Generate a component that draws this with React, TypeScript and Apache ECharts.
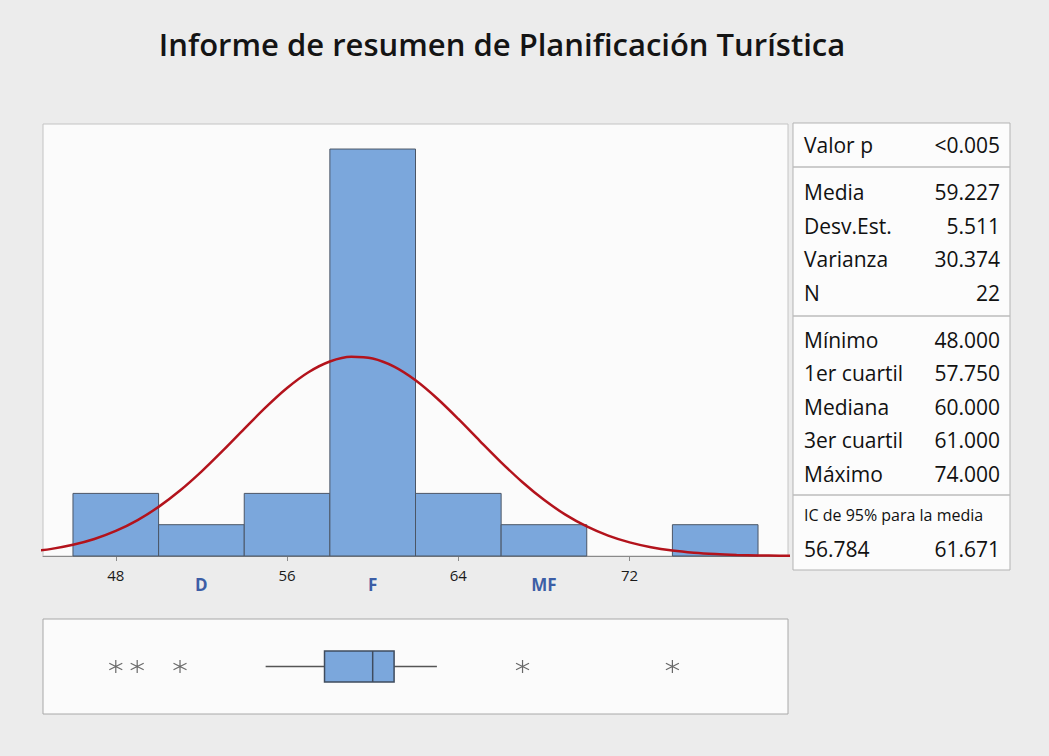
import React, { useEffect, useRef } from "react";
import * as echarts from "echarts";

// ---- Data ----
const binWidth = 4;
const binStarts = [46, 50, 54, 58, 62, 66, 70, 74];
const binCounts = [2, 1, 2, 13, 2, 1, 0, 1];

// fitted normal curve (mean 59.227, sd 5.511, N 22, scaled to counts)
const curveX = [44, 45, 46, 47, 48, 49, 50, 51, 52, 53, 54, 55, 56, 57, 58, 59, 60, 61, 62, 63, 64, 65, 66, 67, 68, 69, 70, 71, 72, 73, 74, 75, 76, 77, 78, 79, 80];
const curveY = [0.14, 0.228, 0.358, 0.544, 0.8, 1.139, 1.569, 2.091, 2.696, 3.365, 4.063, 4.747, 5.367, 5.871, 6.214, 6.365, 6.308, 6.049, 5.613, 5.039, 4.378, 3.68, 2.994, 2.356, 1.794, 1.322, 0.943, 0.65, 0.434, 0.28, 0.175, 0.106, 0.062, 0.035, 0.019, 0.01, 0.005];

const tickValues = [48, 56, 64, 72];
const categoryPos = [52, 60, 68];
const categoryNames = ["D", "F", "MF"];

// boxplot: whisker low, Q1, median, Q3, whisker high
const boxStats = [55, 57.75, 60, 61, 63];
const outliers = [48, 49, 51, 67, 74];

const statGroups = [
  [["Valor p", "<0.005"]],
  [["Media", "59.227"], ["Desv.Est.", "5.511"], ["Varianza", "30.374"], ["N", "22"]],
  [["Mínimo", "48.000"], ["1er cuartil", "57.750"], ["Mediana", "60.000"], ["3er cuartil", "61.000"], ["Máximo", "74.000"]],
];
const ciLabel = "IC de 95% para la media";
const ciValues = ["56.784", "61.671"];

const titleText = "Informe de resumen de Planificación Turística";

const X_MIN = 44.6;
const X_MAX = 79.4;
const FONT = "'Open Sans', 'Noto Sans', sans-serif";

export default function App() {
  const ref = useRef<HTMLDivElement>(null);

  useEffect(() => {
    if (!ref.current) return;
    const chart = echarts.init(ref.current, undefined, { renderer: "svg" });

    const tableX = 793, tableY = 123, tableW = 217, tableH = 447;
    const leftX = 804, rightX = 1000;
    const rowYs = [[145], [192, 226, 259, 293], [340, 373, 407, 440, 474]];
    const sepYs = [167, 316, 495];
    const txtColor = "#111";
    const graphics: any[] = [
      {
        type: "text",
        x: 502,
        y: 44,
        style: {
          text: titleText,
          font: `600 31px ${FONT}`,
          fill: "#141414",
          textAlign: "center",
          textVerticalAlign: "middle",
        },
      },
      {
        type: "rect",
        shape: { x: tableX, y: tableY, width: tableW, height: tableH },
        style: { fill: "#fcfcfc", stroke: "#b3b3b3", lineWidth: 1 },
      },
    ];
    sepYs.forEach((y) =>
      graphics.push({
        type: "line",
        shape: { x1: tableX, y1: y, x2: tableX + tableW, y2: y },
        style: { stroke: "#bdbdbd", lineWidth: 1.5 },
      })
    );
    statGroups.forEach((g, gi) =>
      g.forEach((row, ri) => {
        const y = rowYs[gi][ri];
        graphics.push({
          type: "text",
          x: leftX,
          y,
          style: { text: row[0], font: `500 21px ${FONT}`, fill: txtColor, textAlign: "left", textVerticalAlign: "middle" },
        });
        graphics.push({
          type: "text",
          x: rightX,
          y,
          style: { text: row[1], font: `500 21px ${FONT}`, fill: txtColor, textAlign: "right", textVerticalAlign: "middle" },
        });
      })
    );
    graphics.push({
      type: "text",
      x: leftX,
      y: 515,
      style: { text: ciLabel, font: `16px ${FONT}`, fill: txtColor, textAlign: "left", textVerticalAlign: "middle" },
    });
    graphics.push({
      type: "text",
      x: leftX,
      y: 549,
      style: { text: ciValues[0], font: `500 21px ${FONT}`, fill: txtColor, textAlign: "left", textVerticalAlign: "middle" },
    });
    graphics.push({
      type: "text",
      x: rightX,
      y: 549,
      style: { text: ciValues[1], font: `500 21px ${FONT}`, fill: txtColor, textAlign: "right", textVerticalAlign: "middle" },
    });

    const option: any = {
      animation: false,
      backgroundColor: "#ececec",
      textStyle: { fontFamily: FONT },
      grid: [
        { left: 43, top: 124, width: 745, height: 432, show: true, backgroundColor: "#fbfbfb", borderColor: "#c4c4c4", borderWidth: 1 },
        { left: 43, top: 619, width: 745, height: 95, show: true, backgroundColor: "#fbfbfb", borderColor: "#a8a8a8", borderWidth: 1 },
      ],
      xAxis: [
        {
          gridIndex: 0,
          type: "value",
          min: X_MIN,
          max: X_MAX,
          axisLine: { show: true, lineStyle: { color: "#8a8a8a" } },
          axisTick: { show: true, customValues: tickValues, length: 5, lineStyle: { color: "#8a8a8a" } },
          axisLabel: { customValues: tickValues, color: "#1a1a1a", fontSize: 15, margin: 11, fontFamily: FONT },
          splitLine: { show: false },
        },
        {
          gridIndex: 0,
          type: "value",
          min: X_MIN,
          max: X_MAX,
          position: "bottom",
          axisLine: { show: false },
          axisTick: { show: false },
          axisLabel: {
            customValues: categoryPos,
            formatter: (v: number) => categoryNames[categoryPos.indexOf(v)] ?? "",
            color: "#3c5ea6",
            fontWeight: "bold",
            fontSize: 17,
            margin: 20,
            fontFamily: FONT,
          },
          splitLine: { show: false },
        },
        {
          gridIndex: 1,
          type: "value",
          min: X_MIN,
          max: X_MAX,
          show: false,
        },
      ],
      yAxis: [
        { gridIndex: 0, type: "value", min: 0, max: 13.8, show: false },
        { gridIndex: 1, type: "value", min: -1, max: 1, show: false },
      ],
      series: [
        {
          type: "custom",
          xAxisIndex: 0,
          yAxisIndex: 0,
          data: binStarts.map((s, i) => [s, s + binWidth, binCounts[i]]),
          encode: { x: [0, 1], y: 2 },
          renderItem: (params: any, api: any) => {
            const c = api.value(2);
            if (!c) return null;
            const p0 = api.coord([api.value(0), c]);
            const p1 = api.coord([api.value(1), 0]);
            return {
              type: "rect",
              shape: { x: p0[0], y: p0[1], width: p1[0] - p0[0], height: p1[1] - p0[1] },
              style: { fill: "#7ba7dc", stroke: "#4b5666", lineWidth: 1 },
            };
          },
          z: 2,
        },
        {
          type: "line",
          xAxisIndex: 0,
          yAxisIndex: 0,
          data: curveX.map((x, i) => [x, curveY[i]]),
          smooth: 0.3,
          showSymbol: false,
          clip: true,
          lineStyle: { color: "#b3131c", width: 2.5 },
          z: 3,
        },
        {
          type: "custom",
          xAxisIndex: 2,
          yAxisIndex: 1,
          data: [boxStats],
          encode: { x: [0, 1, 2, 3, 4] },
          renderItem: (params: any, api: any) => {
            const lo = api.coord([api.value(0), 0]);
            const q1 = api.coord([api.value(1), 0]);
            const md = api.coord([api.value(2), 0]);
            const q3 = api.coord([api.value(3), 0]);
            const hi = api.coord([api.value(4), 0]);
            const cy = lo[1];
            const h = 31;
            const lineStyle = { stroke: "#555", lineWidth: 1.5 };
            return {
              type: "group",
              children: [
                { type: "line", shape: { x1: lo[0], y1: cy, x2: q1[0], y2: cy }, style: lineStyle },
                { type: "line", shape: { x1: q3[0], y1: cy, x2: hi[0], y2: cy }, style: lineStyle },
                {
                  type: "rect",
                  shape: { x: q1[0], y: cy - h / 2, width: q3[0] - q1[0], height: h },
                  style: { fill: "#7ba7dc", stroke: "#3f4c5e", lineWidth: 1.5 },
                },
                { type: "line", shape: { x1: md[0], y1: cy - h / 2, x2: md[0], y2: cy + h / 2 }, style: { stroke: "#3f4c5e", lineWidth: 1.5 } },
              ],
            };
          },
        },
        {
          type: "scatter",
          xAxisIndex: 2,
          yAxisIndex: 1,
          data: outliers.map((v) => [v, 0]),
          symbol: "path://M5,0L5,10M0.7,2.5L9.3,7.5M0.7,7.5L9.3,2.5",
          symbolSize: 13,
          itemStyle: { color: "transparent", borderColor: "#444", borderWidth: 1.2 },
        },
      ],
      graphic: graphics,
    };

    chart.setOption(option);
    return () => chart.dispose();
  }, []);

  return <div ref={ref} style={{ position: "absolute", left: 0, top: 0, width: 1049, height: 756 }} />;
}
